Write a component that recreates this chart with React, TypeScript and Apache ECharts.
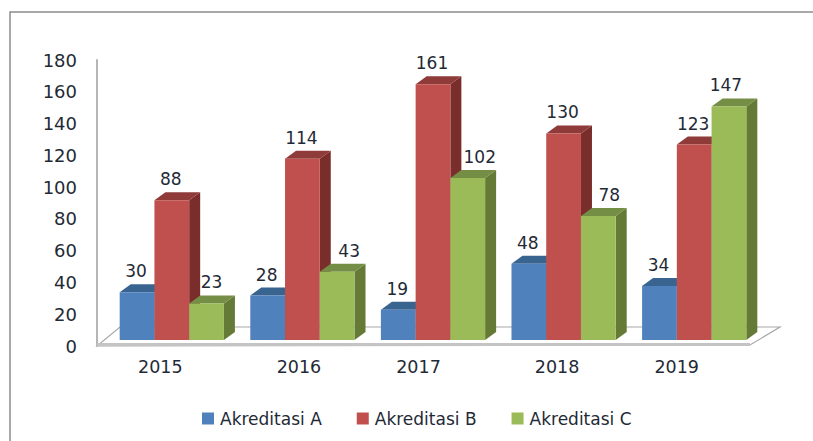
import React, { useEffect, useRef } from "react";
import * as echarts from "echarts";

const years = ["2015", "2016", "2017", "2018", "2019"];
const akreditasiA = [30, 28, 19, 48, 34];
const akreditasiB = [88, 114, 161, 130, 123];
const akreditasiC = [23, 43, 102, 78, 147];
const yearLabelShift = [-2, 6, -5, 3, -8];
const labelShiftC = [6, 13, 13, 12, -2];

const FONT = '"DejaVu Sans", Verdana, sans-serif';
const DEPTH_X = 11;
const DEPTH_Y = 8;
const FLOOR_LIFT = 6;
const GROUP_SHIFT = 9.5;

function barSeries(name: string, values: number[], idx: number, front: string, top: string, side: string, shifts?: number[]) {
  return {
    name,
    type: "custom",
    itemStyle: { color: front },
    data: values.map((v, i) => [i, v]),
    encode: { x: 0, y: 1 },
    renderItem: (params: any, api: any) => {
      const i = api.value(0);
      const v = api.value(1);
      const band = api.size([1, 0])[0];
      const w = band * 0.266;
      const [cx, yTop0] = api.coord([i, v]);
      const [, yBase0] = api.coord([i, 0]);
      const yTop = yTop0 - FLOOR_LIFT;
      const yBase = yBase0 - FLOOR_LIFT;
      const x0 = cx + GROUP_SHIFT + (idx - 1.5) * w;
      const x1 = x0 + w;
      return {
        type: "group",
        children: [
          { type: "polygon", shape: { points: [[x1, yTop], [x1 + DEPTH_X, yTop - DEPTH_Y], [x1 + DEPTH_X, yBase - DEPTH_Y], [x1, yBase]] }, style: { fill: side } },
          { type: "polygon", shape: { points: [[x0, yTop], [x0 + DEPTH_X, yTop - DEPTH_Y], [x1 + DEPTH_X, yTop - DEPTH_Y], [x1, yTop]] }, style: { fill: top } },
          { type: "rect", shape: { x: x0, y: yTop, width: w, height: yBase - yTop }, style: { fill: front } },
          {
            type: "text",
            z2: 10,
            style: {
              text: String(v),
              x: (x0 + x1) / 2 - 1 + (shifts ? shifts[i] : 0),
              y: yTop - 21,
              align: "center",
              verticalAlign: "middle",
              fill: "#1f2a36",
              font: `17px ${FONT}`,
            },
          },
        ],
      };
    },
  };
}

export default function App() {
  const ref = useRef<HTMLDivElement>(null);
  useEffect(() => {
    const chart = echarts.init(ref.current!, null, { renderer: "svg" });
    chart.setOption({
      animation: false,
      backgroundColor: "#ffffff",
      grid: { left: 97, right: 63, top: 60, bottom: 95 },
      graphic: [
        { type: "polyline", z: 0, shape: { points: [[10, 441], [10, 12], [813, 12]] }, style: { stroke: "#8c8c8c", lineWidth: 1.5, fill: "none" } },
        { type: "polygon", z: 0, shape: { points: [[97, 346], [120, 327], [780, 327], [750, 345]] }, style: { fill: "#ffffff", stroke: "#a8a8a8", lineWidth: 1.2 } },
        { type: "rect", z: 1, shape: { x: 97, y: 343, width: 653, height: 3 }, style: { fill: "#c4c4c4" } },
      ],
      xAxis: {
        type: "category",
        data: years.map((y, i) => ({
          value: y,
          textStyle: { padding: yearLabelShift[i] > 0 ? [0, 0, 0, yearLabelShift[i] * 2] : [0, -yearLabelShift[i] * 2, 0, 0] },
        })),
        axisLine: { show: false },
        axisTick: { show: false },
        axisLabel: { color: "#1f2a36", fontFamily: FONT, fontSize: 17.5, margin: 12 },
      },
      yAxis: {
        type: "value",
        min: 0,
        max: 180,
        interval: 20,
        splitLine: { show: false },
        axisTick: { show: false },
        axisLine: { show: true, lineStyle: { color: "#b5b5b5", width: 2 } },
        axisLabel: { color: "#1f2a36", fontFamily: FONT, fontSize: 18, margin: 20, padding: [4, 0, 0, 0] },
      },
      legend: {
        left: 197,
        top: 405,
        itemWidth: 12,
        itemHeight: 12,
        itemGap: 35,
        icon: "rect",
        textStyle: { color: "#1f2a36", fontFamily: FONT, fontSize: 17, padding: [0, 0, 0, 1] },
        data: ["Akreditasi A", "Akreditasi B", "Akreditasi C"],
      },
      series: [
        barSeries("Akreditasi A", akreditasiA, 0, "#4F81BD", "#3A6490", "#375C86"),
        barSeries("Akreditasi B", akreditasiB, 1, "#C0504D", "#8E3B39", "#7A2E2C"),
        barSeries("Akreditasi C", akreditasiC, 2, "#9BBB59", "#758E45", "#657A36", labelShiftC),
      ],
    });
    return () => chart.dispose();
  }, []);
  return <div ref={ref} style={{ position: "fixed", left: 0, top: 0, width: 813, height: 441 }} />;
}
